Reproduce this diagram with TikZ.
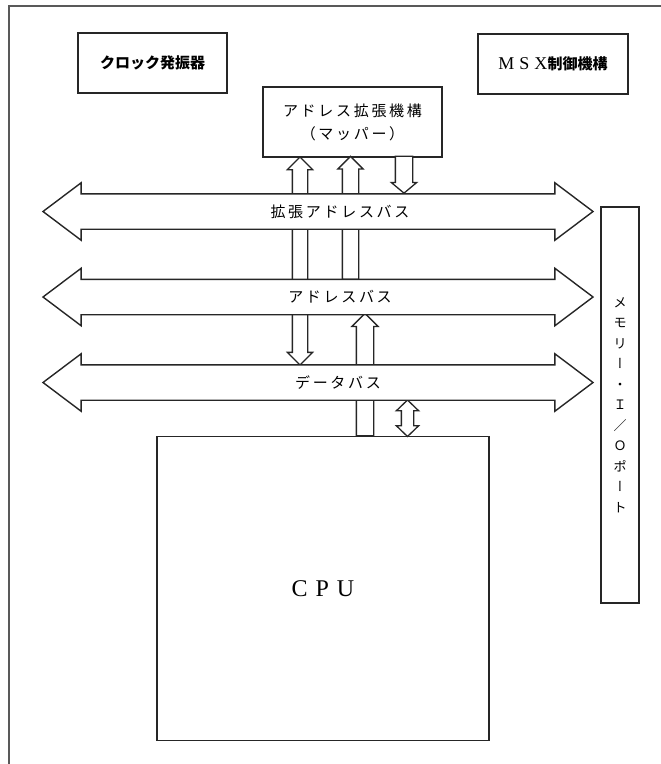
\documentclass[tikz,border=0pt]{standalone}
\usepackage{fontspec}
\usepackage{tikz}
\usetikzlibrary{shapes.arrows}
\setmainfont{Liberation Serif}
\newfontfamily\jp{Noto Sans CJK JP}
\newfontfamily\jpsp[LetterSpace=18]{Noto Sans CJK JP}
\newfontfamily\jpvert[RawFeature=+vert]{Noto Sans CJK JP}

\begin{document}
\begin{tikzpicture}[x=1pt,y=-1pt,
	box/.style={draw=black!85,line width=1.6pt,fill=white,inner sep=0pt},
	bus/.style={double arrow,draw=black!85,line width=1.4pt,fill=white,inner xsep=0pt,inner ysep=17pt,minimum height=550pt,double arrow head extend=11pt,double arrow tip angle=74},
	blk/.style={single arrow,draw=black!85,line width=1.3pt,fill=white,inner xsep=0pt,single arrow tip angle=90},
	blkboth/.style={double arrow,draw=black!85,line width=1.3pt,fill=white,inner xsep=0pt,double arrow tip angle=90},
	buslabel/.style={font=\fontsize{15}{18}\jpsp}]
	\useasboundingbox (0,0) rectangle (661,764);
	\draw[gray!70!black,line width=1.2pt] (661,6) -- (9,6) -- (9,764);
	\node[box,minimum width=149pt,minimum height=60pt,font=\fontsize{15}{18}\jp\bfseries] (clock) at (152.5,63) {クロック発振器};
	\node[box,minimum width=150pt,minimum height=60pt] (msx) at (553,64) {\fontsize{18}{20}\selectfont M\hspace{5pt}S\hspace{5pt}X{\fontsize{15}{18}\jp\bfseries 制御機構}};
	\node[box,minimum width=179pt,minimum height=70pt,align=center,font=\fontsize{15}{23}\jpsp] (mapper) at (352.5,122) {アドレス拡張機構\\（マッパー）};
	\node[box,minimum width=332pt,minimum height=304pt] (cpu) at (323,588.5) {\fontsize{24}{26}\selectfont C\hspace{8pt}P\hspace{8pt}U};
	\node[box,minimum width=38pt,minimum height=396pt,align=center,font=\fontsize{13}{20.5}\jp] (port) at (620,405) {メ\\モ\\リ\\{\jpvert ー}\\・\\Ｉ\\／\\Ｏ\\ポ\\{\jpvert ー}\\ト};
	\node[blkboth,rotate=90,minimum height=208pt,inner ysep=7pt,double arrow head extend=5pt] (mapdat) at (300,261) {};
	\node[blk,rotate=90,anchor=tail,minimum height=123pt,inner ysep=7.5pt,single arrow head extend=4.5pt] (mapadr) at (350.5,280) {};
	\node[blk,rotate=-90,anchor=tip,minimum height=37pt,inner ysep=8pt,single arrow head extend=4pt,single arrow tip angle=100] (mapext) at (404,194) {};
	\node[blk,rotate=90,anchor=tail,minimum height=122.5pt,inner ysep=8pt,single arrow head extend=4.5pt] (cpuadr) at (365,436.5) {};
	\node[blkboth,rotate=90,minimum height=36.5pt,inner ysep=5.5pt,double arrow head extend=5pt,double arrow tip angle=92] (cpudat) at (407.5,418.25) {};
	\node[bus] (extbus) at (318,211.5) {};
	\node[bus] (adrbus) at (318,297) {};
	\node[bus] (datbus) at (318,382.5) {};
	\node[buslabel] (extlabel) at (340,212) {拡張アドレスバス};
	\node[buslabel] (adrlabel) at (340,297) {アドレスバス};
	\node[buslabel] (datlabel) at (338,383) {データバス};
\end{tikzpicture}
\end{document}
